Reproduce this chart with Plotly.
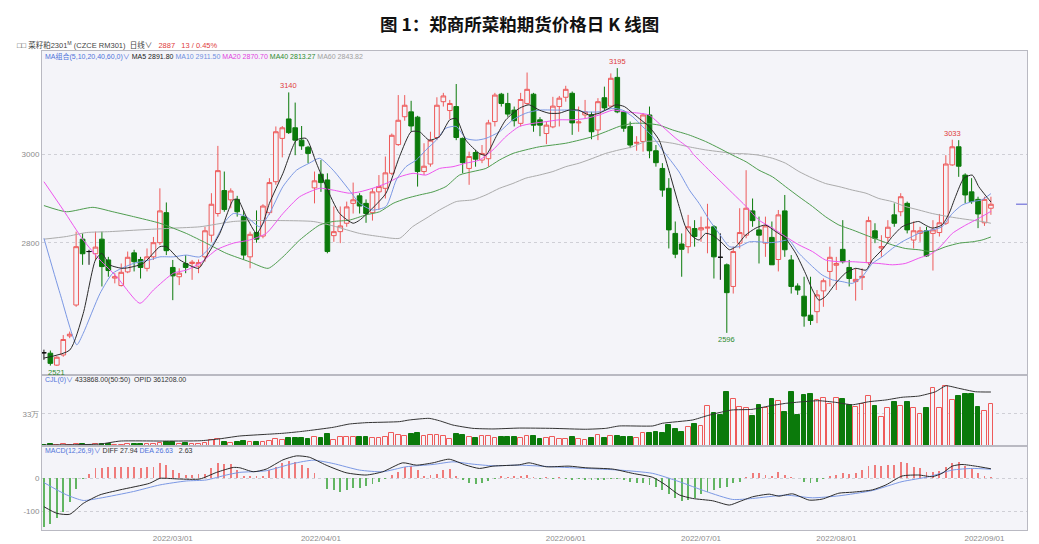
import plotly.graph_objects as go
import pandas as pd

# ---------------- data ----------------
holidays = ['2022-01-31', '2022-02-01', '2022-02-02', '2022-02-03', '2022-02-04',
            '2022-04-04', '2022-04-05', '2022-05-02', '2022-05-03', '2022-05-04', '2022-06-03']
dates = [d for d in pd.bdate_range('2022-01-25', '2022-09-02') if d.strftime('%Y-%m-%d') not in holidays]

opens = [2551, 2550, 2523, 2546, 2589, 2659, 2808, 2780, 2775, 2808,
         2761, 2720, 2703, 2734, 2777, 2762, 2742, 2768, 2800, 2868,
         2744, 2723, 2753, 2753, 2747, 2768, 2817, 2866, 2918, 2897,
         2898, 2859, 2768, 2823, 2815, 2868, 2938, 3036, 3080, 3060,
         3032, 3016, 2924, 2955, 2942, 2816, 2825, 2844, 2889, 2906,
         2889, 2868, 2915, 2923, 2957, 3022, 3085, 3096, 3084, 2961,
         2978, 3038, 3119, 3099, 3108, 3036, 2968, 3004, 2987, 2990,
         3074, 3136, 3115, 3100, 3070, 3115, 3136, 3078, 3047, 3062,
         3108, 3129, 3138, 3071, 3089, 3089, 3055, 3128, 3109, 3174,
         3096, 3063, 3025, 3029, 3089, 3008, 2968, 2923, 2821, 2797,
         2791, 2832, 2829, 2833, 2836, 2767, 2750, 2701, 2799, 2817,
         2872, 2829, 2799, 2812, 2762, 2872, 2761, 2702, 2679, 2636,
         2644, 2691, 2735, 2749, 2785, 2744, 2712, 2721, 2755, 2827,
         2788, 2812, 2863, 2870, 2889, 2806, 2821, 2827, 2821, 2823,
         2844, 2976, 3017, 2953, 2915, 2898, 2845, 2878]
highs = [2558, 2556, 2543, 2591, 2599, 2825, 2821, 2784, 2825, 2825,
         2768, 2731, 2753, 2780, 2784, 2768, 2787, 2813, 2923, 2891,
         2761, 2742, 2772, 2761, 2762, 2836, 2912, 3019, 2961, 2923,
         2906, 2872, 2825, 2873, 2887, 2946, 3063, 3064, 3140, 3117,
         3064, 3019, 2961, 2987, 2957, 2882, 2882, 2893, 2936, 2912,
         2898, 2923, 2953, 2995, 3047, 3134, 3134, 3121, 3087, 3025,
         3051, 3129, 3139, 3123, 3159, 3038, 3006, 3010, 3021, 3078,
         3139, 3139, 3139, 3108, 3139, 3185, 3139, 3084, 3074, 3130,
         3132, 3155, 3142, 3108, 3123, 3096, 3127, 3153, 3183, 3195,
         3100, 3074, 3041, 3093, 3108, 3021, 2980, 2946, 2848, 2821,
         2863, 2851, 2859, 2888, 2840, 2821, 2753, 2791, 2878, 2964,
         2900, 2859, 2859, 2848, 2874, 2908, 2772, 2708, 2723, 2723,
         2693, 2719, 2791, 2768, 2851, 2761, 2742, 2742, 2859, 2844,
         2817, 2851, 2889, 2912, 2893, 2848, 2836, 2836, 2851, 2865,
         2998, 3033, 3032, 2957, 2946, 2904, 2904, 2904]
lows = [2535, 2522, 2521, 2542, 2584, 2655, 2750, 2750, 2761, 2701,
        2723, 2708, 2701, 2731, 2735, 2719, 2735, 2761, 2795, 2772,
        2670, 2704, 2731, 2716, 2731, 2757, 2802, 2859, 2870, 2878,
        2859, 2761, 2742, 2800, 2810, 2863, 2931, 2993, 3046, 2998,
        3010, 2980, 2889, 2915, 2776, 2802, 2799, 2836, 2866, 2866,
        2845, 2850, 2874, 2900, 2953, 3019, 3076, 3051, 2927, 2953,
        2972, 3032, 3108, 3079, 3032, 2957, 2931, 2972, 2980, 2972,
        3063, 3108, 3085, 3063, 3063, 3112, 3051, 3041, 3023, 3059,
        3063, 3119, 3044, 3051, 3081, 3034, 3032, 3100, 3108, 3093,
        3051, 3014, 3008, 3006, 2991, 2972, 2904, 2787, 2765, 2723,
        2776, 2791, 2802, 2776, 2719, 2716, 2596, 2685, 2787, 2810,
        2836, 2753, 2768, 2750, 2735, 2768, 2685, 2682, 2610, 2614,
        2618, 2655, 2701, 2693, 2753, 2701, 2669, 2693, 2750, 2799,
        2768, 2802, 2836, 2860, 2821, 2787, 2802, 2768, 2737, 2814,
        2840, 2974, 2949, 2889, 2888, 2833, 2838, 2863]
closes = [2551, 2527, 2541, 2581, 2593, 2791, 2775, 2780, 2790, 2746,
          2737, 2723, 2733, 2767, 2757, 2744, 2768, 2800, 2872, 2782,
          2725, 2731, 2744, 2756, 2755, 2827, 2887, 2963, 2875, 2917,
          2870, 2772, 2819, 2808, 2883, 2936, 3051, 3060, 3049, 3032,
          3019, 3002, 2940, 2936, 2780, 2825, 2838, 2881, 2897, 2883,
          2866, 2915, 2927, 2958, 3043, 3077, 3111, 3064, 2961, 2973,
          3032, 3111, 3132, 3115, 3038, 2981, 2995, 2989, 3002, 3071,
          3134, 3115, 3091, 3076, 3124, 3147, 3066, 3066, 3066, 3109,
          3127, 3147, 3071, 3073, 3096, 3051, 3119, 3105, 3172, 3096,
          3059, 3021, 3027, 3089, 3008, 2981, 2919, 2829, 2774, 2785,
          2836, 2814, 2834, 2835, 2768, 2767, 2687, 2780, 2823, 2878,
          2850, 2817, 2838, 2750, 2863, 2784, 2701, 2693, 2634, 2624,
          2682, 2714, 2767, 2753, 2757, 2719, 2717, 2724, 2850, 2810,
          2791, 2835, 2844, 2904, 2829, 2827, 2827, 2770, 2829, 2845,
          2978, 3017, 2973, 2908, 2893, 2865, 2898, 2887]

volume = [15000, 20000, 12000, 18000, 10000, 25000, 22000, 12000, 18000, 25000,
          20000, 12000, 15000, 18000, 22000, 18000, 20000, 22000, 30000, 40000,
          38000, 22000, 30000, 18000, 22000, 35000, 65000, 75000, 45000, 35000,
          45000, 48000, 40000, 45000, 38000, 55000, 68000, 60000, 82000, 85000,
          78000, 75000, 95000, 80000, 120000, 60000, 95000, 92000, 90000, 88000,
          93000, 82000, 80000, 95000, 130000, 118000, 108000, 128000, 135000, 100000,
          112000, 110000, 100000, 68000, 125000, 110000, 92000, 85000, 98000, 105000,
          78000, 90000, 92000, 88000, 84000, 107000, 100000, 76000, 84000, 96000,
          76000, 76000, 96000, 76000, 59000, 84000, 114000, 84000, 103000, 107000,
          90000, 90000, 84000, 131000, 131000, 148000, 138000, 217000, 172000, 148000,
          200000, 227000, 207000, 413000, 345000, 320000, 560000, 480000, 400000, 390000,
          310000, 420000, 395000, 480000, 467000, 350000, 553000, 320000, 526000, 533000,
          474000, 495000, 430000, 490000, 485000, 420000, 400000, 430000, 518000, 413000,
          297000, 395000, 457000, 416000, 450000, 390000, 330000, 395000, 595000, 395000,
          622000, 474000, 518000, 536000, 536000, 400000, 365000, 433868]

oi_x = [0, 8.7, 11.8, 19, 24.2, 26.8, 30.4, 34.5, 37.1, 39.7, 41.8, 44.9, 47.4, 50, 55.2,
        56.7, 59.8, 61.4, 63.5, 66.6, 69.7, 73.8, 78.9, 84.1, 87.2, 89.3, 94.5, 96, 100.7,
        102.8, 104.8, 106.8, 109.9, 112.6, 115.1, 117.7, 120.3, 122.9, 125.5, 128, 130.7,
        133.2, 135.8, 138.4, 140, 142, 144.6, 147]
oi = [6700, 13000, 33000, 33000, 35000, 45000, 67000, 78000, 85000, 96000, 107000, 125000,
      147000, 156000, 163000, 174000, 185000, 169000, 140000, 118000, 114000, 120000, 118000,
      112000, 118000, 134000, 134000, 152000, 174000, 201000, 223000, 241000, 245000, 268000,
      285000, 296000, 303000, 292000, 276000, 296000, 308000, 326000, 334000, 363000, 403000,
      386000, 363000, 361208]

ma5_x = [0, 4, 6.1, 8, 9, 10.2, 12.3, 15.4, 18, 19, 21.1, 24, 25.2, 27.3, 29.4, 30.1, 31.4, 33,
         34, 35, 37.1, 39.2, 40.7, 42.3, 43.8, 45.9, 48, 49, 51, 53.1, 55.2, 57, 58.3, 59.8,
         61.4, 63, 64, 65.5, 67.6, 68.6, 70.2, 71.7, 73.8, 75.3, 76.9, 78.4, 80, 81.5, 83,
         84.6, 86.2, 87.7, 88.8, 90.1, 91.4, 92.4, 93.9, 95.5, 97, 98.6, 99.6, 100.7, 101.7,
         102.7, 103.8, 105.3, 106.4, 107.4, 108.9, 110.5, 112, 113.6, 115.1, 116.7, 118.2,
         119.3, 120.3, 121.3, 122.9, 124.4, 126, 127.6, 128.6, 130.1, 131.7, 133.2, 134.8,
         135.8, 136.8, 137.9, 139.4, 140.5, 141.5, 142.8, 144.1, 145.1, 146.1, 147]
ma5 = [2539, 2557, 2640, 2761, 2776, 2750, 2742, 2753, 2791, 2791, 2761, 2742, 2768, 2821,
       2897, 2898, 2859, 2821, 2844, 2889, 2957, 3032, 3036, 2980, 2927, 2866, 2844, 2851,
       2878, 2912, 2995, 3051, 3051, 3032, 3040, 3078, 3081, 3032, 3002, 2998, 3040, 3078,
       3104, 3112, 3100, 3093, 3093, 3100, 3100, 3089, 3093, 3104, 3112, 3108, 3093, 3081,
       3063, 3032, 2964, 2882, 2836, 2814, 2806, 2821, 2817, 2799, 2784, 2791, 2817, 2833,
       2840, 2825, 2810, 2776, 2731, 2693, 2670, 2678, 2708, 2731, 2742, 2738, 2761, 2784,
       2814, 2836, 2845, 2848, 2840, 2833, 2840, 2866, 2904, 2946, 2953, 2927, 2908, 2892]

ma10_x = [0, 2.5, 5.1, 6.1, 8.7, 10.7, 13.9, 16.4, 18, 20.1, 22.1, 24.2, 26.3, 28.3, 29.4,
          31.4, 33.5, 35, 37.1, 39.2, 41.2, 42.8, 44.9, 47.4, 49, 51, 53.1, 54.7, 56.2, 57.8,
          59.3, 60.9, 62.4, 64, 65.5, 67.1, 68.6, 70.7, 72.8, 74.8, 76.9, 79.5, 82, 84.1,
          86.2, 88.3, 89.8, 91.4, 92.9, 94.5, 96, 97.6, 98.6, 100.2, 101.7, 103.3, 104.8,
          106.4, 107.9, 109.5, 111, 112.6, 114.1, 115.6, 117.2, 119.3, 120.8, 122.4, 123.9,
          125.5, 127, 128.6, 130.1, 131.7, 133.2, 134.8, 136.4, 137.9, 139.4, 141, 142.5,
          144.1, 145.6, 147]
ma10 = [2810, 2685, 2569, 2595, 2685, 2731, 2753, 2761, 2768, 2768, 2772, 2768, 2799, 2851,
        2866, 2859, 2836, 2866, 2927, 2964, 2980, 2991, 2964, 2919, 2889, 2874, 2882, 2942,
        2972, 2987, 3010, 3032, 3059, 3063, 3036, 3032, 3036, 3051, 3078, 3093, 3100, 3100,
        3100, 3096, 3096, 3104, 3100, 3085, 3063, 3040, 3010, 2980, 2960, 2919, 2889, 2851,
        2821, 2791, 2791, 2802, 2802, 2800, 2802, 2806, 2776, 2746, 2727, 2716, 2712, 2708,
        2723, 2753, 2768, 2787, 2802, 2814, 2825, 2829, 2836, 2866, 2885, 2893, 2897, 2911]

ma20_x = [0, 3, 6.1, 8.7, 11.3, 14.9, 17, 20.1, 22.1, 24.2, 26.8, 29.4, 31.9, 34.5, 37.1,
          39.7, 42.8, 44.9, 47.4, 49, 51, 53.1, 55.2, 57.3, 59.3, 61.4, 63.5, 65.5, 67.6,
          69.7, 71.7, 73.8, 75.9, 78, 80, 82.1, 84.1, 86.2, 88.3, 90.3, 92.4, 93.9, 96, 98.1,
          100.1, 100.7, 102.7, 104.8, 106.9, 109, 111, 113.1, 115.1, 117.2, 119.3, 121.3,
          123.4, 125.5, 127.6, 129.6, 131.7, 133.7, 135.8, 137.9, 139.4, 141, 143.1, 145.1, 147]
ma20 = [2938, 2874, 2806, 2761, 2723, 2663, 2693, 2731, 2738, 2753, 2784, 2799, 2806, 2821,
        2866, 2904, 2923, 2919, 2912, 2915, 2923, 2934, 2949, 2957, 2953, 2968, 2972, 2980,
        2987, 3010, 3040, 3063, 3070, 3074, 3078, 3078, 3081, 3089, 3100, 3096, 3093, 3089,
        3063, 3036, 3014, 3002, 2972, 2942, 2912, 2882, 2851, 2833, 2814, 2795, 2780, 2761,
        2757, 2757, 2755, 2753, 2750, 2753, 2765, 2776, 2795, 2821, 2840, 2855, 2871]

ma40_x = [0, 3.5, 7.6, 10.7, 13.9, 18, 22.1, 25.2, 28.3, 31.9, 34.8, 37.1, 39.7, 42.8, 44.9,
          47.4, 50, 52.1, 54.2, 56.2, 58.3, 60.4, 62.4, 64.5, 66.6, 68.6, 70.7, 72.8, 74.8,
          76.9, 79, 81, 83.1, 85.2, 87.2, 89.3, 91.4, 93.4, 95.5, 97.6, 100.1, 102.7, 104.8,
          106.9, 109, 111, 113.1, 115.1, 117.2, 119.3, 121.3, 123.4, 125.5, 127.6, 129.6,
          131.7, 133.7, 135.8, 137.9, 140, 142.1, 144.1, 145.6, 147]
ma40 = [2884, 2870, 2880, 2870, 2859, 2844, 2821, 2799, 2776, 2757, 2742, 2768, 2806, 2840,
        2848, 2851, 2863, 2870, 2889, 2900, 2908, 2915, 2927, 2953, 2961, 2968, 2987, 3002,
        3010, 3017, 3021, 3025, 3032, 3040, 3051, 3063, 3070, 3070, 3066, 3055, 3044, 3029,
        3014, 2998, 2983, 2964, 2949, 2927, 2904, 2882, 2859, 2840, 2829, 2817, 2806, 2795,
        2787, 2784, 2780, 2791, 2799, 2802, 2806, 2813]

ma60_x = [0, 3.5, 6.6, 10.2, 14.9, 20.1, 24.2, 29.4, 32.5, 37.1, 41.8, 44.9, 49, 52.1, 55.2,
          57.2, 59.3, 61.4, 64, 66.6, 68.6, 70.7, 72.8, 74.8, 76.9, 79, 81, 83.1, 85.2, 87.2,
          89.3, 91.4, 93.4, 95.5, 97.6, 100.1, 102.7, 104.8, 106.9, 109, 111, 113.1, 115.1,
          117.2, 119.3, 121.3, 123.4, 125.5, 127.6, 129.6, 131.7, 133.7, 135.8, 137.9, 140,
          142.1, 144.1, 145.6, 147]
ma60 = [2808, 2814, 2823, 2825, 2829, 2833, 2836, 2848, 2850, 2850, 2848, 2838, 2821, 2814,
        2810, 2836, 2855, 2874, 2893, 2897, 2908, 2923, 2934, 2946, 2953, 2961, 2972, 2980,
        2991, 3002, 3010, 3017, 3029, 3029, 3025, 3017, 3010, 3006, 3002, 3001, 2998, 2991,
        2980, 2961, 2946, 2934, 2927, 2919, 2912, 2900, 2893, 2882, 2874, 2866, 2860, 2855,
        2851, 2848, 2844]

macd_hist = [-149, -139, -120, -102, -72, -34, -2, 11, 29, 31,
             32, 32, 34, 32, 32, 31, 32, 34, 45, 39,
             24, 14, 9, 9, 11, 12, 29, 45, 42, 42,
             24, 6, 4, 6, 4, 24, 34, 47, 51, 49,
             39, 29, 14, 0, -34, -36, -41, -36, -31, -29,
             -24, -19, -11, -1, 9, 19, 32, 36, 24, 6,
             9, 12, 24, 26, 6, -6, -16, -19, -16, -9,
             -1, 4, 2, 4, 6, 8, 2, -2, 2, -2,
             2, -2, -4, -2, -4, -6, -4, -4, -2, -2,
             -6, -11, -14, -16, -21, -26, -36, -48, -61, -71,
             -66, -61, -48, -41, -36, -31, -28, -16, -11, 3,
             14, 16, 9, 6, 19, 9, 2, 0, -11, -16,
             -11, -2, 6, 9, 14, 11, 14, 24, 36, 39,
             36, 39, 39, 49, 44, 34, 29, 19, 19, 21,
             34, 46, 49, 36, 26, 14, 6, 2.63]

diff_x = [0, 2, 4, 6.1, 8.7, 11.8, 16.4, 18, 19, 21, 24.2, 26.8, 29.4, 30.4, 32.5, 34.5, 37.1,
          39.2, 41.2, 43.8, 46.9, 50, 52.6, 55.7, 57.8, 60.4, 62.9, 65.5, 67.6, 69.7, 73.8,
          75.3, 78, 81.5, 84.1, 88.3, 91.4, 94.5, 96.5, 98.6, 100.7, 103.8, 106.4, 107.9, 110,
          112.6, 114.1, 116.2, 118.8, 120.8, 123.4, 125.5, 128.6, 130.7, 133.2, 135.8, 137.9,
          139.4, 141, 142.5, 144.6, 147]
diff = [-87, -107, -110, -77, -51, -36, -16, -1, -1, -3, -3, 17, 32, 31, 19, 27, 55, 67, 63,
        39, 16, 9, 19, 46, 39, 46, 57, 39, 29, 36, 40, 46, 34, 36, 31, 27, 14, 2, -21, -51,
        -62, -69, -82, -72, -57, -49, -55, -48, -67, -64, -46, -43, -36, -21, 6, 9, 4, 14, 36,
        41, 36, 27.94]

dea_x = [0, 3.5, 6.1, 8.7, 13.9, 18, 22.1, 25.2, 28.3, 30.4, 34.5, 38.7, 41.8, 44.9, 49, 52.6,
         56.2, 60.4, 63.5, 66.6, 69.7, 73.8, 79, 84.1, 89.3, 94.5, 98.6, 102.8, 106.9, 110,
         115.1, 119.3, 123.4, 128.6, 133.2, 137.4, 141, 144.1, 147]
dea = [-14, -51, -68, -61, -41, -21, -9, -6, 9, 17, 22, 44, 54, 44, 24, 19, 34, 41, 49, 42,
       37, 39, 34, 29, 24, 14, -11, -41, -65, -62, -52, -60, -54, -38, -11, 4, 24, 29, 26.63]

peak_idx = [38, 89, 141]
trough_idx = [106, 2]

# ---------------- styles ----------------
BG = '#f4f4f9'
RED = '#ee5a5a'
GREEN = '#0b7a0b'
AXIS_FONT = dict(family='Liberation Sans, Arial, sans-serif', size=8, color='#8c8c8c')
W, H = 1039, 544
L, R, T, B = 42, 12, 51, 14
PW, PH = W - L - R, H - T - B


def px(xp):
    return (xp - L) / PW


def py(yp):
    return (H - B - yp) / PH


idx = list(range(len(closes)))
up = [i for i in idx if closes[i] > opens[i]]
down = [i for i in idx if closes[i] < opens[i]]
doji = [i for i in idx if closes[i] == opens[i]]


def sub(arr, ids):
    return [arr[i] for i in ids]


fig = go.Figure()


def candle(ids, inc_col, inc_fill, dec_col, dec_fill):
    fig.add_trace(go.Candlestick(
        x=ids, open=sub(opens, ids), high=sub(highs, ids), low=sub(lows, ids), close=sub(closes, ids),
        increasing=dict(line=dict(color=inc_col, width=1), fillcolor=inc_fill),
        decreasing=dict(line=dict(color=dec_col, width=1), fillcolor=dec_fill),
        xaxis='x', yaxis='y', showlegend=False, hoverinfo='skip'))


candle(up, RED, BG, RED, BG)
candle(down, GREEN, GREEN, GREEN, GREEN)
candle(doji, '#111111', '#111111', '#111111', '#111111')

for xs, ys, col in [(ma60_x, ma60, '#ababab'), (ma40_x, ma40, '#4f9d4f'), (ma20_x, ma20, '#ee55ee'),
                    (ma10_x, ma10, '#7b98e4'), (ma5_x, ma5, '#2a2a2a')]:
    fig.add_trace(go.Scatter(x=xs, y=ys, mode='lines', line=dict(color=col, width=1, shape='spline', smoothing=0.6),
                             xaxis='x', yaxis='y', showlegend=False, hoverinfo='skip'))

# volume
vol_up = up
vol_dn = down + doji
fig.add_trace(go.Bar(x=vol_up, y=sub(volume, vol_up), width=0.74,
                     marker=dict(color=BG, line=dict(color=RED, width=1)),
                     xaxis='x2', yaxis='y2', showlegend=False, hoverinfo='skip'))
fig.add_trace(go.Bar(x=vol_dn, y=sub(volume, vol_dn), width=0.74,
                     marker=dict(color=GREEN, line=dict(color=GREEN, width=1)),
                     xaxis='x2', yaxis='y2', showlegend=False, hoverinfo='skip'))
fig.add_trace(go.Scatter(x=oi_x, y=oi, mode='lines', line=dict(color='#333333', width=1, shape='spline', smoothing=0.5),
                         xaxis='x2', yaxis='y3', showlegend=False, hoverinfo='skip'))

# MACD
fig.add_trace(go.Bar(x=idx, y=macd_hist, width=0.14,
                     marker=dict(color=['#ef7b7b' if v > 0 else '#62b562' for v in macd_hist], line=dict(width=0)),
                     xaxis='x3', yaxis='y4', showlegend=False, hoverinfo='skip'))
fig.add_trace(go.Scatter(x=dea_x, y=dea, mode='lines', line=dict(color='#7b98e4', width=1, shape='spline', smoothing=0.6),
                         xaxis='x3', yaxis='y4', showlegend=False, hoverinfo='skip'))
fig.add_trace(go.Scatter(x=diff_x, y=diff, mode='lines', line=dict(color='#2a2a2a', width=1, shape='spline', smoothing=0.6),
                         xaxis='x3', yaxis='y4', showlegend=False, hoverinfo='skip'))

tick_pos = [i for i, d in enumerate(dates) if d.day == 1]
tick_txt = [dates[i].strftime('%Y/%m/%d') for i in tick_pos]

xr = [-0.3, 152.6]
d_price = [py(375), 1]
d_vol = [py(446), py(375)]
d_macd = [0, py(446)]
common_x = dict(range=xr, showgrid=False, zeroline=False, showline=True, mirror=True,
                linecolor='#b9b9c2', linewidth=1, ticks='', fixedrange=True, automargin=False)
common_y = dict(showgrid=True, gridcolor='#cfcfd6', griddash='dot', gridwidth=1, zeroline=False,
                showline=True, mirror=True, linecolor='#b9b9c2', linewidth=1, ticks='',
                tickfont=AXIS_FONT, fixedrange=True, automargin=False)

fig.update_layout(
    width=W, height=H, margin=dict(l=L, r=R, t=T, b=B, autoexpand=False),
    paper_bgcolor='white', plot_bgcolor=BG,
    boxgap=0.28, boxgroupgap=0, barmode='overlay', bargap=0,
    xaxis=dict(**common_x, anchor='y', showticklabels=False, rangeslider=dict(visible=False)),
    xaxis2=dict(**common_x, anchor='y2', matches='x', showticklabels=False),
    xaxis3=dict(**common_x, anchor='y4', matches='x', tickvals=tick_pos, ticktext=tick_txt, tickfont=AXIS_FONT),
    yaxis=dict(**common_y, domain=d_price, range=[2500.7, 3233.7], tickvals=[2800, 3000]),
    yaxis2=dict(**common_y, domain=d_vol, range=[0, 732000], tickvals=[330000], ticktext=['33万']),
    yaxis3=dict(overlaying='y2', range=[0, 475000], visible=False, fixedrange=True),
    yaxis4=dict(**common_y, domain=d_macd, range=[-157.6, 97], tickvals=[0, -100], ticktext=['0', '-100']),
    showlegend=False,
)

ann = []
SMALL = 'Liberation Sans, Arial, Noto Sans CJK SC, sans-serif'


def text(x, y, s, size=7, color='#333', anchor='left', family=SMALL, **kw):
    ann.append(dict(x=px(x), y=py(y), xref='paper', yref='paper', text=s, showarrow=False,
                    xanchor=anchor, yanchor='middle', font=dict(family=family, size=size, color=color), **kw))


text(519, 23, '<b>图 1：郑商所菜粕期货价格日 K 线图</b>', size=17.5, color='#111', anchor='center',
     family='Noto Sans CJK SC, sans-serif')
text(15, 45, '□□ 菜籽粕2301<sup>M</sup> (CZCE RM301)  日线∨ &nbsp; '
             '<span style="color:#e03c3c">2887 &nbsp; 13 / 0.45%</span>', size=7.5, color='#444')
text(43, 56, '<span style="color:#4f73d9">MA组合(5,10,20,40,60,0)∨</span> '
             '<span style="color:#222">MA5 2891.80</span> '
             '<span style="color:#6f8fe0">MA10 2911.50</span> '
             '<span style="color:#e040e0">MA20 2870.70</span> '
             '<span style="color:#2e8b2e">MA40 2813.27</span> '
             '<span style="color:#a0a0a0">MA60 2843.82</span>')
text(43, 380, '<span style="color:#4f73d9">CJL(0)∨</span> 433868.00(50:50) &nbsp;OPID 361208.00', color='#333')
text(43, 451, '<span style="color:#4f73d9">MACD(12,26,9)∨</span> DIFF 27.94 '
              '<span style="color:#4f73d9">DEA 26.63</span> &nbsp; 2.63', color='#333')
fig.update_layout(annotations=ann)

for i in peak_idx:
    fig.add_annotation(x=i, y=highs[i], xref='x', yref='y', text=str(highs[i]), showarrow=False,
                       yanchor='bottom', yshift=0, font=dict(family=SMALL, size=7.5, color='#e03c3c'))
for i in trough_idx:
    fig.add_annotation(x=i, y=lows[i], xref='x', yref='y', text=str(lows[i]), showarrow=False,
                       yanchor='top', yshift=0, font=dict(family=SMALL, size=7.5, color='#2e8b2e'))

# last-price marker on the right edge
fig.add_shape(type='line', xref='x', yref='y', x0=150.9, x1=152.6, y0=closes[-1], y1=closes[-1],
              line=dict(color='#8a8ae0', width=1.5))

fig.write_html('out.html')
